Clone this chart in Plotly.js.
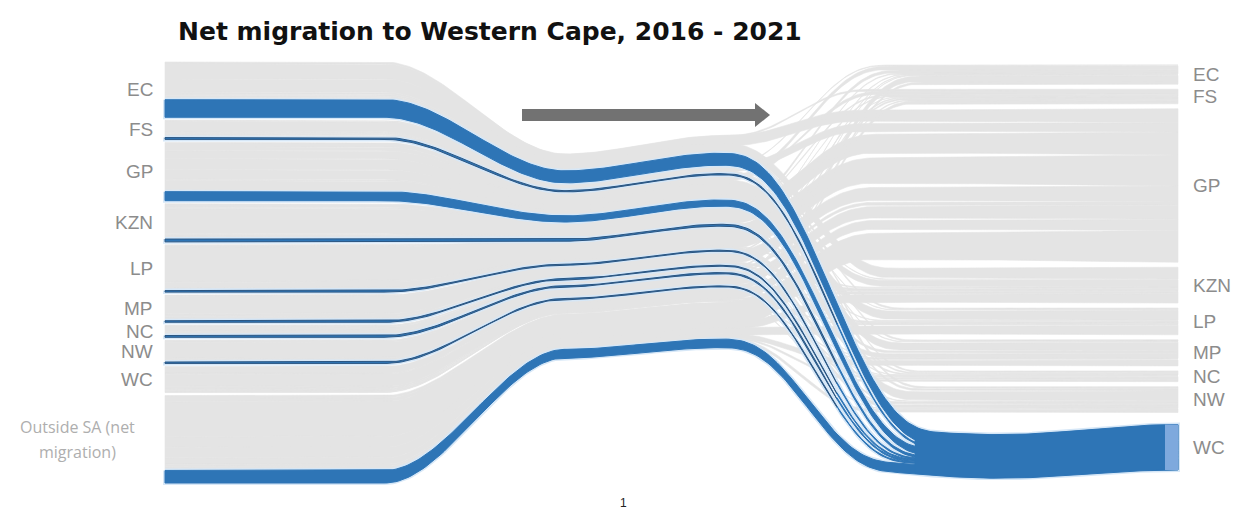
<!DOCTYPE html>
<html><head><meta charset="utf-8">
<script src="https://cdn.plot.ly/plotly-3.0.1.min.js"></script>
<style>html,body{margin:0;padding:0;background:#fff;} #chart{width:1240px;height:509px;}</style>
</head><body><div id="chart"></div>
<script>
// ---------------- DATA (thousands of migrants, 2016-2021) ----------------
const origins = ["EC","FS","GP","KZN","LP","MP","NC","NW","WC","Outside SA (net<br>migration)"];
const destinations = ["EC","FS","GP","KZN","LP","MP","NC","NW","WC"];
// rows: origin -> destination columns in the order of `destinations`
const fromEC      = [0, 19, 150, 130, 20, 18, 16, 22, 175];
const fromFS      = [8, 0, 105, 7, 5, 8, 14, 25, 18];
const fromGP      = [45, 38, 0, 80, 110, 95, 14, 108, 90];
const fromKZN     = [35, 14, 250, 0, 8, 27, 8, 10, 28];
const fromLP      = [10, 10, 340, 13, 0, 55, 5, 22, 15];
const fromMP      = [7, 4, 175, 28, 25, 0, 6, 10, 15];
const fromNC      = [6, 12, 35, 3, 2, 2, 0, 42, 18];
const fromNW      = [4, 18, 155, 4, 12, 8, 15, 0, 14];
const fromWC      = [70, 10, 120, 22, 6, 8, 18, 6, 0];
const fromOutside = [25, 35, 350, 105, 105, 65, 22, 38, 125];
const highlight = "WC";

// ---------------- LAYOUT CONSTANTS ----------------
const matrix = [fromEC, fromFS, fromGP, fromKZN, fromLP, fromMP, fromNC, fromNW, fromWC, fromOutside];
const W = 1240, H = 509;
const LX = 165, RX = 1178;
const LTOP = 62, LBOT = 483, LPAD = 3;
const RTOP = 65, RBOT = 470, RPAD = 5, RPAD_HL = 12;
const XA = 385, X1 = 565, X2 = 720, XD = 1000, XB0 = 820, XSPLIT = 835;
const M1 = {c: 240, k: 0.48}, M2 = {c: 225, k: 0.5};
const MIDF = 0.68, DIPF = 0.86, SAG = 9;
const GREY = '#e4e4e4', BLUE = '#2e75b6', THIN_EDGE = '#2b5682', HALO = '#d6e7f7';

const nO = origins.length, nD = destinations.length;
const hl = destinations.indexOf(highlight);
const outTot = matrix.map(r => r.reduce((a, b) => a + b, 0));
const inTot = destinations.map((_, j) => matrix.reduce((a, r) => a + r[j], 0));
const total = outTot.reduce((a, b) => a + b, 0);
const sL = (LBOT - LTOP - LPAD * (nO - 1)) / total;
let rPads = 0; for (let j = 1; j < nD; j++) rPads += (j === hl ? RPAD_HL : RPAD);
const sR = (RBOT - RTOP - rPads) / total;

// stacking
const leftTop = [], leftNode = [];
let cur = LTOP;
for (let i = 0; i < nO; i++) {
  leftTop.push([]); let y = cur;
  for (let j = 0; j < nD; j++) { leftTop[i].push(y); y += matrix[i][j] * sL; }
  leftNode.push([cur, cur + outTot[i] * sL]);
  cur += outTot[i] * sL + LPAD;
}
const rightTop = matrix.map(() => new Array(nD).fill(0)), rightNode = [];
cur = RTOP;
for (let j = 0; j < nD; j++) {
  if (j > 0) cur += (j === hl ? RPAD_HL : RPAD);
  let y = cur;
  for (let i = 0; i < nO; i++) { rightTop[i][j] = y; y += matrix[i][j] * sR; }
  rightNode.push([cur, cur + inTot[j] * sR]);
  cur += inTot[j] * sR;
}

const ease3 = t => t * t * (3 - 2 * t);
const ease5 = t => t * t * t * (t * (t * 6 - 15) + 10);
const lerp = (a, b, t) => a + (b - a) * t;
const xs = [];
for (let x = LX; x < RX; x += 3) xs.push(x);
xs.push(RX);

function scaleAt(x) {
  if (x <= XA) return sL;
  if (x <= X1) return lerp(sL, sL * MIDF, ease3((x - XA) / (X1 - XA)));
  if (x <= X2) return sL * MIDF;
  if (x <= XD) return lerp(sL * MIDF, sR * DIPF, ease3((x - X2) / (XD - X2)));
  return lerp(sR * DIPF, sR, ease3((x - XD) / (RX - XD)));
}

function band(i, j) {
  const v = matrix[i][j];
  const cL = leftTop[i][j] + v * sL / 2;
  const cR = rightTop[i][j] + v * sR / 2;
  const c1 = M1.c + M1.k * (cL - 240);
  const c2 = M2.c + M2.k * (cL - 240);
  const XE = X2 + 140 + 0.3 * Math.abs(cR - c2);
  const sag = j === hl ? SAG : 0;
  const center = x => {
    let c;
    if (x <= XA) c = cL;
    else if (x <= X1) c = cL + (c1 - cL) * ease3((x - XA) / (X1 - XA));
    else if (x <= X2) c = c1 + (c2 - c1) * ease3((x - X1) / (X2 - X1));
    else if (x <= XE) c = c2 + (cR - c2) * ease5((x - X2) / (XE - X2));
    else c = cR;
    if (x > XB0) c += sag * Math.pow(Math.sin(Math.PI * (x - XB0) / (RX - XB0)), 2);
    return c;
  };
  const top = [], bot = [];
  xs.forEach(x => { const c = center(x), t = v * scaleAt(x); top.push(c - t / 2); bot.push(c + t / 2); });
  return {top, bot, thin: v * sL < 4};
}
function polyXY(b, k0, k1) {
  const X = xs.slice(k0, k1 + 1), T = b.top.slice(k0, k1 + 1), B = b.bot.slice(k0, k1 + 1);
  return {x: X.concat(X.slice().reverse(), [X[0]]), y: T.concat(B.slice().reverse(), [T[0]])};
}
const poly = (xy, fill, lc, lw) => ({type: 'scatter', mode: 'lines', x: xy.x, y: xy.y, fill: 'toself',
  fillcolor: fill, line: {color: lc, width: lw}, hoverinfo: 'skip', showlegend: false});

const traces = [];
const N = xs.length - 1;
for (let i = 0; i < nO; i++) for (let j = 0; j < nD; j++) {
  if (j === hl || matrix[i][j] <= 0) continue;
  traces.push(poly(polyXY(band(i, j), 0, N), GREY, GREY, 0.6));
}
const blue = [];
for (let i = 0; i < nO; i++) if (matrix[i][hl] > 0) blue.push(band(i, hl));
blue.forEach(b => traces.push(poly(polyXY(b, 0, N), HALO, HALO, 4)));
const kS = xs.findIndex(x => x >= XSPLIT);
blue.forEach(b => {
  if (b.thin) {
    traces.push(poly(polyXY(b, 0, kS), BLUE, THIN_EDGE, 1));
    traces.push(poly(polyXY(b, kS, N), BLUE, BLUE, 1));
  } else traces.push(poly(polyXY(b, 0, N), BLUE, BLUE, 1));
});

// merged bundle where all highlighted flows have converged into the node
const bx = [], bt = [], bb = [];
let started = false;
xs.forEach((x, k) => {
  const tmin = Math.min(...blue.map(b => b.top[k]));
  const bmax = Math.max(...blue.map(b => b.bot[k]));
  const sum = blue.reduce((a, b) => a + (b.bot[k] - b.top[k]), 0);
  if (!started && x > X2 && bmax - tmin <= 1.25 * sum) started = true;
  if (started) { bx.push(x); bt.push(tmin + 0.5); bb.push(bmax - 0.5); }
});
if (bx.length) traces.push({type: 'scatter', mode: 'lines', x: bx.concat(bx.slice().reverse(), [bx[0]]),
  y: bt.concat(bb.slice().reverse(), [bt[0]]), fill: 'toself', fillcolor: BLUE, line: {color: BLUE, width: 0.5},
  hoverinfo: 'skip', showlegend: false});

const annotations = [];
origins.forEach((o, i) => {
  const c = (leftNode[i][0] + leftNode[i][1]) / 2;
  if (o.indexOf('<br>') >= 0) {
    const lines = o.split('<br>');
    lines.forEach((ln, k) => annotations.push({x: 77, y: c - 12 + 25 * k, xref: 'x', yref: 'y', text: ln,
      showarrow: false, xanchor: 'center', yanchor: 'middle',
      font: {family: 'Open Sans', size: 16, color: '#aeaeae'}}));
  } else {
    annotations.push({x: 155, y: c, xref: 'x', yref: 'y', text: o, showarrow: false,
      xanchor: 'right', yanchor: 'middle', font: {family: 'Liberation Sans', size: 19, color: '#8c8c8c'}});
  }
});
destinations.forEach((d, j) => {
  const c = (rightNode[j][0] + rightNode[j][1]) / 2;
  annotations.push({x: 1191, y: c, xref: 'x', yref: 'y', text: d, showarrow: false, xanchor: 'left', yanchor: 'middle',
    font: {family: 'Liberation Sans', size: 19, color: '#8c8c8c'}});
});
annotations.push({x: 623, y: 503, xref: 'x', yref: 'y', text: '1', showarrow: false, xanchor: 'center', yanchor: 'middle',
  font: {family: 'Liberation Sans', size: 12, color: '#222'}});

const shapes = [
  {type: 'rect', xref: 'x', yref: 'y', x0: RX - 13, x1: RX, y0: rightNode[hl][0], y1: rightNode[hl][1],
    fillcolor: '#7ea9dd', line: {width: 0}},
  {type: 'rect', xref: 'x', yref: 'y', x0: 522, x1: 757, y0: 109, y1: 121, fillcolor: '#727272', line: {width: 0}},
  {type: 'path', xref: 'x', yref: 'y', path: 'M 755 103 L 770 115 L 755 127 Z', fillcolor: '#727272', line: {width: 0}}
];

const layout = {
  width: W, height: H, margin: {l: 0, r: 0, t: 0, b: 0},
  paper_bgcolor: '#fff', plot_bgcolor: '#fff',
  title: {text: '<b>Net migration to Western Cape, 2016 - 2021</b>', x: 178 / W, xanchor: 'left', xref: 'container',
    y: 1 - 31 / H, yref: 'container', yanchor: 'middle', font: {family: 'DejaVu Sans', size: 25, color: '#111'}},
  xaxis: {range: [0, W], visible: false, fixedrange: true},
  yaxis: {range: [H, 0], visible: false, fixedrange: true},
  annotations, shapes, showlegend: false
};
Plotly.newPlot('chart', traces, layout, {displayModeBar: false, staticPlot: true});
</script></body></html>
